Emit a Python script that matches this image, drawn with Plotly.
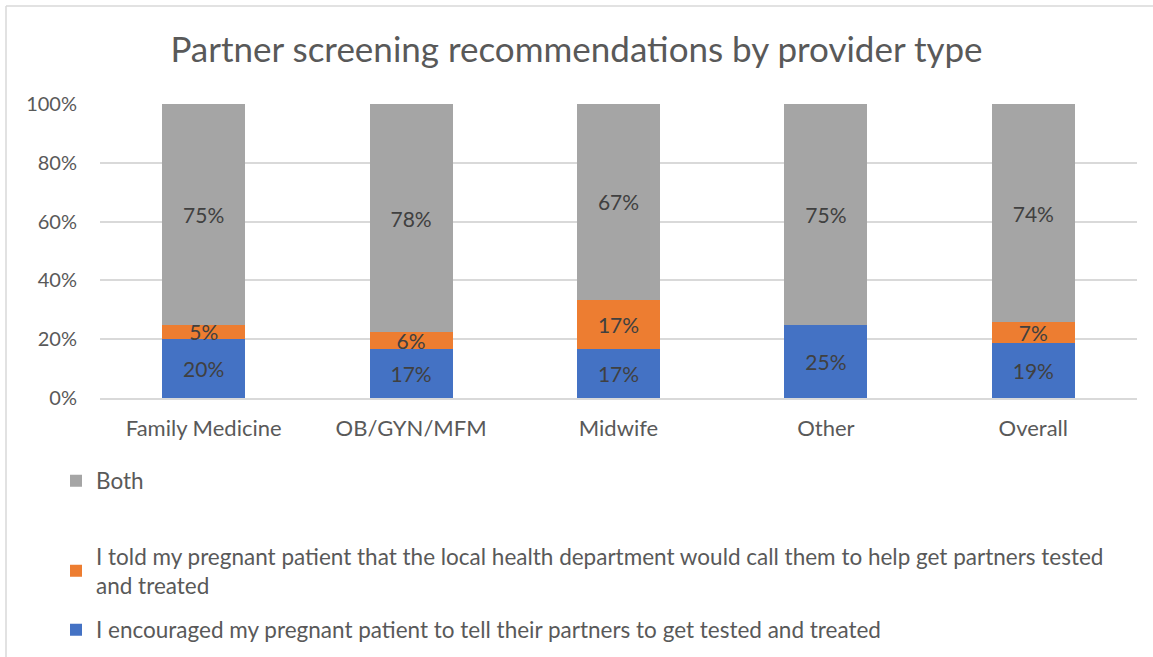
import plotly.graph_objects as go

categories = ["Family Medicine", "OB/GYN/MFM", "Midwife", "Other", "Overall"]
encouraged = [0.200, 0.167, 0.167, 0.250, 0.187]
health_dept = [0.050, 0.056, 0.167, 0.000, 0.071]
both = [0.750, 0.778, 0.667, 0.750, 0.742]

names = [
    "I encouraged my pregnant patient to tell their partners to get tested and treated",
    "I told my pregnant patient that the local health department would call them to help get partners tested<br>and treated",
    "Both",
]
colors = ["#4472C4", "#ED7D31", "#A5A5A5"]
series = [encouraged, health_dept, both]
legends = ["legend3", "legend2", "legend"]

FONT = "Lato"
W, H = 1153, 657
L, R, T, B = 100, 16, 104, 259
pw, ph = W - L - R, H - T - B

def py2paper(py):
    return (H - B - py) / ph

def px2paper(px):
    return (px - L) / pw

fig = go.Figure()
for vals, name, col, lg in zip(series, names, colors, legends):
    fig.add_trace(go.Bar(
        x=categories, y=vals, name=name, marker_color=col,
        marker_line_width=0, legend=lg, showlegend=True,
        text=[f"{v*100:.0f}%" if v > 0 else "" for v in vals],
        textposition="inside", insidetextanchor="middle",
        textfont=dict(family=FONT, size=21, color="#404040"),
        hoverinfo="skip",
    ))

leg_common = dict(
    orientation="v", xanchor="left", yanchor="middle",
    font=dict(family=FONT, size=22.5, color="#595959"),
    bgcolor="rgba(0,0,0,0)", itemclick=False, itemdoubleclick=False,
)
lx = px2paper(56)
fig.update_layout(
    width=W, height=H, showlegend=True,
    margin=dict(l=L, r=R, t=T, b=B, autoexpand=False),
    barmode="stack", bargap=0.6,
    paper_bgcolor="white", plot_bgcolor="white",
    title=dict(text="Partner screening recommendations by provider type",
               x=0.5, xanchor="center", y=1 - 50 / H, yanchor="middle",
               font=dict(family=FONT, size=35, color="#595959")),
    uniformtext=dict(mode="show", minsize=21),
    legend=dict(x=lx, y=py2paper(481), **leg_common),
    legend2=dict(x=lx, y=py2paper(571), **leg_common),
    legend3=dict(x=lx, y=py2paper(630), **leg_common),
    xaxis=dict(showline=True, linecolor="#D9D9D9", linewidth=1.5,
               tickfont=dict(family=FONT, size=22, color="#595959"),
               ticks="", ticklabelstandoff=10, fixedrange=True),
    yaxis=dict(range=[0, 1], tickformat=".0%", dtick=0.2,
               gridcolor="#D9D9D9", gridwidth=1.5, zeroline=False,
               tickfont=dict(family=FONT, size=20, color="#595959"),
               ticks="", ticklabelstandoff=22, fixedrange=True),
    shapes=[
        dict(type="line", xref="paper", yref="paper",
             x0=px2paper(6), x1=px2paper(1153), y0=py2paper(6), y1=py2paper(6),
             line=dict(color="#D9D9D9", width=1.5)),
        dict(type="line", xref="paper", yref="paper",
             x0=px2paper(6), x1=px2paper(6), y0=py2paper(6), y1=py2paper(657),
             line=dict(color="#D9D9D9", width=1.5)),
    ],
)
fig.write_html("out.html", config={"displayModeBar": False},
               post_script="document.body.style.margin='0px';document.body.style.overflow='hidden';")
